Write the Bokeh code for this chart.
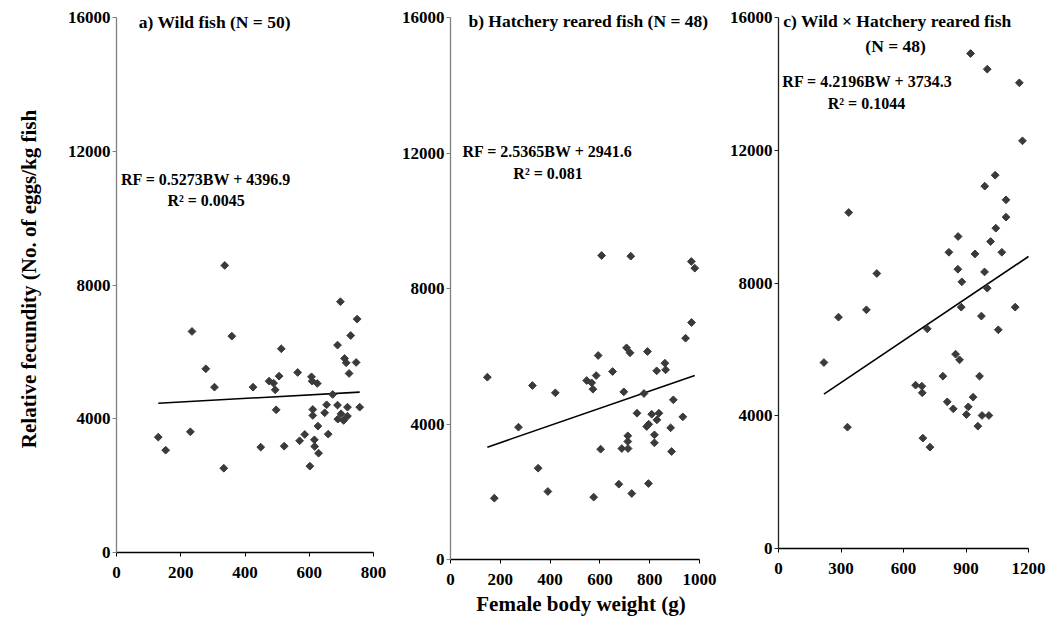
import numpy as np
from bokeh.plotting import figure
from bokeh.layouts import row
from bokeh.models import Range1d, FixedTicker, Label, NumeralTickFormatter
from bokeh.embed import file_html
from bokeh.resources import INLINE

# ---------------- data ----------------
wild_bw = [337, 235, 359, 278, 305, 425, 130, 230, 153, 334,
           697, 749, 729, 688, 513, 710, 715, 746, 724, 564,
           607, 609, 625, 506, 475, 489, 494, 673, 497, 611,
           611, 654, 688, 719, 757, 648, 699, 719, 689, 707,
           627, 659, 586, 570, 616, 617, 629, 449, 522, 602]
wild_rf = [8585, 6611, 6470, 5494, 4945, 4945, 3450, 3610, 3060, 2520,
           7500, 6980, 6490, 6202, 6093, 5803, 5674, 5684, 5354, 5384,
           5254, 5125, 5055, 5274, 5125, 5065, 4865, 4726, 4267, 4277,
           4098, 4417, 4407, 4347, 4347, 4178, 4148, 4078, 3988, 3949,
           3779, 3540, 3530, 3341, 3370, 3171, 2970, 3150, 3180, 2582]

hatch_bw = [148, 329, 421, 547, 273, 352, 391, 176,
            607, 724, 967, 981, 968, 944, 707, 721, 791, 593,
            861, 828, 864, 651, 585, 567, 572, 696, 777, 895,
            749, 808, 837, 933, 829, 796, 788, 884, 712, 819,
            712, 819, 603, 688, 713, 888, 676, 795, 728, 575]
hatch_rf = [5381, 5136, 4920, 5283, 3906, 2695, 2007, 1810,
            8974, 8954, 8797, 8600, 6996, 6533, 6249, 6102, 6140, 6022,
            5795, 5569, 5599, 5549, 5431, 5215, 5027, 4949, 4900, 4713,
            4318, 4289, 4318, 4211, 4122, 3993, 3926, 3887, 3651, 3680,
            3484, 3444, 3256, 3276, 3276, 3188, 2223, 2243, 1948, 1840]

cross_bw = [922, 1002, 1156, 1171, 1040, 990, 1092, 1092, 1043, 337,
            862, 1018, 818, 943, 1072, 861, 989, 472, 880, 1002,
            877, 1136, 422, 974, 288, 714, 1055, 850, 869, 218,
            789, 965, 658, 688, 690, 934, 810, 911, 839, 902,
            977, 1010, 331, 957, 693, 727]
cross_rf = [14915, 14443, 14032, 12284, 11249, 10918, 10506, 9984, 9652, 10124,
            9401, 9250, 8926, 8876, 8926, 8414, 8334, 8286, 8035, 7844,
            7272, 7272, 7192, 7002, 6971, 6620, 6590, 5856, 5685, 5604,
            5193, 5193, 4922, 4891, 4691, 4560, 4419, 4268, 4208, 4037,
            4008, 4008, 3656, 3686, 3325, 3054]

titles = [["a) Wild fish (N = 50)"],
          ["b) Hatchery reared fish (N = 48)"],
          ["c) Wild \u00d7 Hatchery reared fish", "(N = 48)"]]
equations = ["RF = 0.5273BW + 4396.9", "RF = 2.5365BW + 2941.6", "RF = 4.2196BW + 3734.3"]
r2_texts = ["R\u00b2 = 0.0045", "R\u00b2 = 0.081", "R\u00b2 = 0.1044"]
slopes = [0.5273, 2.5365, 4.2196]
intercepts = [4396.9, 2941.6, 3734.3]
trend_x_end = [None, None, 1200]

x_max = [800, 1000, 1200]
x_ticks = [[0, 200, 400, 600, 800],
           [0, 200, 400, 600, 800, 1000],
           [0, 300, 600, 900, 1200]]
y_max = 16000
y_ticks = [0, 4000, 8000, 12000, 16000]

y_title = "Relative fecundity (No. of eggs/kg fish"
x_title = "Female body weight (g)"

FONT = "Liberation Serif"

# --------------- layout params (pixels) ---------------
frame_w = [257, 249, 250]      # width of the axis extent
frame_h = [535, 542, 531]      # height of the axis extent
pad = 12                       # invisible frame extension top/right (keeps labels unclipped)
b_left = [116, 57, 57]
b_right = [8, 10, 7]
b_top = 17 - pad
total_h = 622

# label anchor positions (data units) : title lines, equation, r2
title_pos = [[(306, 15854, "center")],
             [(72, 15882, "left")],
             [(571, 15880, "center"), (562, 15156, "center")]]
eq_pos = [(279, 11158), (390, 12044), (427, 14072)]
r2_pos = [(279, 10530), (392, 11395), (422, 13409)]

datasets = [(wild_bw, wild_rf), (hatch_bw, hatch_rf), (cross_bw, cross_rf)]
yaxis_col = ["#808080", "#808080", "#202020"]

panels = []
for i in range(3):
    bw, rf = datasets[i]
    fw = frame_w[i] + pad
    fh = frame_h[i] + pad
    x_end = x_max[i] * fw / frame_w[i]
    y_end = y_max * fh / frame_h[i]
    p = figure(output_backend="svg", toolbar_location=None,
               frame_width=fw, frame_height=fh,
               min_border_left=b_left[i], min_border_right=b_right[i],
               min_border_top=b_top,
               min_border_bottom=total_h - b_top - fh,
               x_range=Range1d(0, x_end), y_range=Range1d(0, y_end),
               background_fill_color="white", border_fill_color="white")
    p.outline_line_color = None
    p.xgrid.grid_line_color = None
    p.ygrid.grid_line_color = None

    for ax in (p.xaxis, p.yaxis):
        ax.major_label_text_font = FONT
        ax.major_label_text_font_style = "bold"
        ax.major_label_text_font_size = "17px"
        ax.major_label_text_color = "black"
        ax.minor_tick_line_color = None
        ax.major_tick_in = 0
        ax.major_tick_out = 4
        ax.formatter = NumeralTickFormatter(format="0")
        ax.axis_label_text_font = FONT
        ax.axis_label_text_font_style = "bold"
        ax.axis_label_text_font_size = "21px"
        ax.axis_label_text_color = "black"
    p.xaxis.ticker = FixedTicker(ticks=x_ticks[i])
    p.yaxis.ticker = FixedTicker(ticks=y_ticks)
    p.xaxis.bounds = (0, x_max[i])
    p.yaxis.bounds = (0, y_max)
    p.xaxis.axis_line_color = "black"
    p.xaxis.major_tick_line_color = "black"
    p.yaxis.axis_line_color = yaxis_col[i]
    p.yaxis.major_tick_line_color = yaxis_col[i]
    p.yaxis.axis_line_width = 1.3
    p.xaxis.axis_line_width = 1.3
    p.xaxis.major_label_standoff = 10
    p.yaxis.major_label_standoff = 2

    if i == 0:
        p.yaxis.axis_label = y_title
        p.yaxis.axis_label_standoff = 24
    if i == 1:
        p.xaxis.axis_label = x_title
        p.xaxis.axis_label_standoff = 4

    # trend line from regression equation
    x0 = min(bw)
    x1 = trend_x_end[i] if trend_x_end[i] is not None else max(bw)
    xs = [x0, x1]
    ys = [slopes[i] * x + intercepts[i] for x in xs]
    p.line(xs, ys, line_color="black", line_width=1.6)

    p.scatter(bw, rf, marker="square", angle=np.pi / 4, size=5.5,
              fill_color="#3a3a3a", line_color="#3a3a3a")

    for (tx, ty, al), txt in zip(title_pos[i], titles[i]):
        p.add_layout(Label(x=tx, y=ty, text=txt, text_align=al,
                           text_baseline="middle", text_font=FONT,
                           text_font_style="bold", text_font_size="17.5px",
                           text_color="black"))
    p.add_layout(Label(x=eq_pos[i][0], y=eq_pos[i][1], text=equations[i],
                       text_align="center", text_baseline="middle",
                       text_font=FONT, text_font_style="bold",
                       text_font_size="16px", text_color="black"))
    p.add_layout(Label(x=r2_pos[i][0], y=r2_pos[i][1], text=r2_texts[i],
                       text_align="center", text_baseline="middle",
                       text_font=FONT, text_font_style="bold",
                       text_font_size="16px", text_color="black"))
    panels.append(p)

layout = row(*panels, spacing=0)
open("out.html", "w").write(file_html(layout, INLINE))
